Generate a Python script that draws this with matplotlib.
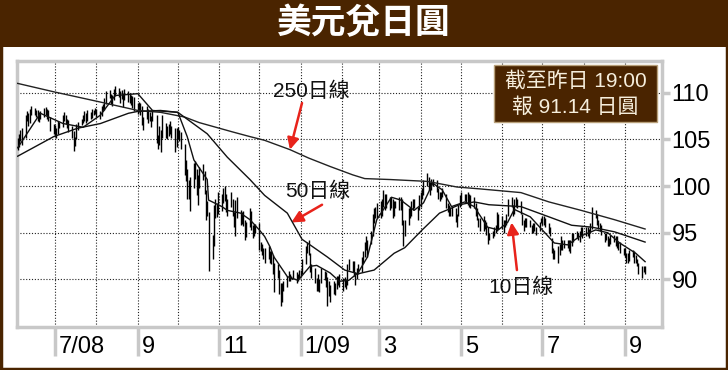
import numpy as np
import pandas as pd
import matplotlib
matplotlib.use('Agg')
import matplotlib.pyplot as plt
from matplotlib.patches import Rectangle
from matplotlib import transforms

plt.rcParams['font.family'] = ['Liberation Sans', 'Noto Sans CJK TC', 'DejaVu Sans']

title = '美元兌日圓'
info_lines = ['截至昨日 19:00', '報 91.14 日圓']

# 每日交易日 (2008-06-03 ~ 2009-09-16)
days = pd.bdate_range('2008-06-03', '2009-09-16')

# 日高
high = [
    105.2,105.6,106.0,106.2,107.6,108.0,107.8,108.3,108.6,108.4,108.2,108.1,107.9,108.0,108.4,108.5,108.3,108.1,107.4,106.6,  # 6/08
    106.5,106.2,107.0,106.9,107.6,107.9,107.6,107.2,107.1,106.4,105.9,105.3,106.6,106.9,107.2,107.6,108.0,107.8,108.1,107.9,108.3,108.2,108.4,  # 7
    108.3,108.0,108.6,108.8,109.4,110.2,110.3,109.9,109.8,110.4,110.7,110.5,110.2,110.3,110.0,110.4,110.2,110.0,109.8,109.6,109.5,  # 8
    108.9,109.0,108.9,108.6,107.4,108.6,108.3,107.9,107.5,108.1,107.6,105.5,106.4,106.0,107.6,106.8,106.4,106.6,107.0,106.4,106.2,106.2,  # 9
    106.3,106.0,105.8,104.5,102.8,101.8,100.6,101.0,102.5,102.7,101.8,101.2,102.0,102.4,101.6,99.6,98.4,97.2,94.8,98.0,98.6,98.2,99.4,  # 10
    99.2,99.8,100.0,99.2,98.6,99.4,98.6,97.2,98.5,98.8,97.4,97.2,97.3,96.4,96.2,97.6,97.3,95.8,95.9,95.9,  # 11
    96.0,94.0,93.8,93.4,93.4,93.6,93.0,93.0,92.6,91.8,91.6,91.0,89.6,89.6,89.8,90.4,90.9,90.6,90.4,91.0,90.8,90.6,91.0,  # 12
    91.0,92.2,93.6,94.0,94.2,92.8,91.6,91.2,90.2,90.6,90.0,91.2,90.9,90.8,90.3,89.8,89.4,89.8,89.6,90.4,90.4,90.6,  # 1/09
    90.2,90.3,90.0,91.6,92.2,92.0,92.0,90.8,91.2,91.6,92.4,93.0,94.0,94.6,94.2,95.2,97.0,97.6,97.8,98.2,  # 2
    98.4,98.6,99.6,99.2,99.2,98.8,98.8,98.6,98.4,98.4,98.8,98.8,98.6,96.4,96.4,97.6,97.8,98.4,98.6,98.6,97.8,99.0,  # 3
    99.4,99.8,100.6,101.4,101.0,100.4,100.8,100.8,100.6,99.8,99.4,99.4,99.8,99.2,98.2,98.0,97.8,97.8,97.6,97.0,98.0,99.0,  # 4
    99.4,99.2,99.2,99.4,99.2,99.0,98.8,98.2,97.6,96.6,96.6,96.8,96.4,96.2,95.6,95.0,95.2,95.6,95.8,97.2,97.0,  # 5
    96.8,96.4,96.4,97.0,98.6,98.8,98.0,98.6,98.8,98.6,98.4,97.0,96.4,96.6,96.6,96.4,95.8,96.0,96.0,95.6,96.2,96.6,  # 6
    96.8,96.8,96.6,96.0,95.6,94.4,93.4,93.2,93.6,93.8,94.6,94.2,94.2,94.2,94.2,94.2,95.0,95.0,95.2,95.0,95.2,95.6,95.6,  # 7
    95.6,95.6,95.4,96.0,97.8,97.4,97.0,96.4,96.0,95.8,95.0,95.0,94.6,94.4,94.8,94.8,94.6,94.6,94.0,94.0,93.4,  # 8
    93.4,92.8,92.8,93.2,93.2,93.0,92.6,92.2,91.8,91.4,91.4,91.4,  # 9
]
# 日低
low = [
    103.9,104.2,104.8,104.4,105.2,107.0,106.4,106.8,107.6,107.6,107.4,107.0,106.9,107.2,107.4,107.6,107.2,107.0,105.9,105.6,
    105.3,105.2,105.6,106.2,106.3,107.0,106.6,106.2,105.8,105.2,103.8,104.3,105.0,106.0,106.5,106.8,107.0,106.8,107.0,107.2,107.3,107.6,107.7,
    107.4,107.2,107.5,108.0,108.2,108.8,109.4,108.8,108.6,109.2,109.6,109.5,108.9,109.3,108.5,109.2,109.0,108.9,108.7,108.4,108.0,
    107.7,107.9,107.6,106.5,106.0,107.2,106.8,107.0,106.3,107.0,104.6,104.0,104.4,103.6,105.2,105.2,105.0,105.4,105.6,105.2,103.6,104.2,
    105.0,104.8,104.0,101.2,100.5,98.6,98.6,97.3,99.8,100.8,99.0,98.0,99.8,100.6,99.2,96.4,96.8,90.9,92.2,93.6,96.6,96.7,97.0,
    97.3,98.2,98.4,97.2,96.8,97.8,96.8,95.6,94.6,96.6,95.8,95.9,95.7,94.2,94.5,95.6,95.3,94.4,94.7,95.0,
    93.2,93.0,92.6,92.2,91.8,92.2,91.8,91.6,90.6,88.6,90.2,88.4,87.2,87.6,88.8,89.2,89.8,89.8,90.0,90.0,89.6,89.8,90.0,
    90.4,90.6,91.6,92.8,92.6,90.8,90.2,89.6,88.8,88.8,88.6,89.6,89.9,89.2,87.2,88.2,87.6,88.4,88.3,89.0,89.4,89.2,
    88.8,89.2,89.0,89.4,91.0,90.8,90.4,89.4,90.0,90.6,90.8,91.8,92.4,93.2,92.4,93.8,94.6,96.0,96.6,96.6,
    96.6,96.8,97.8,97.4,97.6,97.4,97.6,96.6,96.8,97.6,97.4,97.4,95.8,93.6,94.6,95.8,96.6,96.8,97.4,97.6,96.4,97.4,
    97.8,98.6,99.0,100.0,99.6,99.0,99.6,100.0,99.4,98.6,98.4,98.6,98.8,97.6,97.2,96.8,96.8,96.8,96.2,95.6,96.8,97.8,
    98.0,98.4,98.2,98.0,97.8,97.6,97.6,96.8,96.4,95.6,95.2,95.2,95.4,94.8,93.8,94.2,94.4,94.6,95.0,95.2,95.4,
    95.4,95.0,95.6,95.8,96.8,97.8,96.8,97.0,97.8,97.6,97.0,95.8,95.2,95.6,95.6,95.6,95.0,95.0,95.2,94.8,95.2,96.0,
    95.8,95.8,95.6,95.0,94.6,92.8,92.2,92.2,91.8,92.6,93.2,93.2,93.4,93.4,93.0,92.8,93.6,94.0,94.4,94.2,94.0,94.6,94.4,
    94.6,94.6,94.4,95.0,95.4,96.6,95.8,95.4,95.2,94.8,94.0,94.2,93.6,93.6,93.8,94.0,93.6,93.4,93.2,92.8,92.6,
    92.4,91.8,91.8,92.0,92.4,91.8,91.8,91.4,90.6,90.2,90.8,90.6,
]

# 移動平均線 (讀圖取點)
ma10_dates = ['2008-06-03','2008-06-20','2008-07-07','2008-07-22','2008-08-04','2008-08-15','2008-09-01','2008-09-12',
              '2008-10-01','2008-10-08','2008-10-13','2008-10-23','2008-10-24','2008-11-03','2008-11-07','2008-11-17',
              '2008-11-24','2008-12-01','2008-12-05','2008-12-09','2008-12-12','2008-12-22','2008-12-30','2009-01-08',
              '2009-01-13','2009-01-23','2009-01-30','2009-02-06','2009-02-13','2009-02-20','2009-02-27','2009-03-10',
              '2009-03-17','2009-03-27','2009-04-03','2009-04-10','2009-04-17','2009-04-24','2009-05-04','2009-05-11',
              '2009-05-21','2009-05-29','2009-06-05','2009-06-10','2009-06-22','2009-07-10','2009-07-20','2009-07-29',
              '2009-08-10','2009-08-19','2009-08-28','2009-09-09','2009-09-16']
ma10 = [104.1,107.8,106.7,106.3,107.6,109.7,109.9,108.1,107.9,105.3,102.8,100.7,98.5,97.8,97.4,97.1,96.4,95.3,94.6,93.5,
        92.4,90.3,89.9,91.4,91.5,90.7,89.8,89.9,90.7,92.4,96.4,98.8,98.5,97.4,98.2,100.3,99.6,97.8,98.3,97.8,
        95.6,95.3,96.1,97.5,96.7,93.9,93.7,94.6,95.3,95.0,93.9,92.8,91.9]

ma50_dates = ['2008-06-03','2008-06-30','2008-07-18','2008-08-04','2008-08-25','2008-09-01','2008-09-18','2008-10-01',
              '2008-10-23','2008-11-07','2008-11-24','2008-12-05','2008-12-22','2009-01-02','2009-01-21','2009-02-03',
              '2009-02-13','2009-02-25','2009-03-12','2009-03-20','2009-04-02','2009-04-15','2009-04-30','2009-05-11',
              '2009-05-22','2009-06-15','2009-07-06','2009-07-23','2009-08-07','2009-08-24','2009-09-16']
ma50 = [103.2,105.3,106.2,106.7,107.8,108.0,108.1,107.9,105.6,103.1,100.7,99.0,97.1,94.3,92.4,91.0,90.6,91.0,92.8,93.4,
        95.3,97.1,98.0,98.3,98.0,97.8,96.7,95.8,95.6,95.1,94.0]

ma250_dates = ['2008-06-03','2008-06-30','2008-08-04','2008-09-01','2008-09-18','2008-10-06','2008-10-17','2008-11-11',
               '2008-11-24','2008-12-05','2008-12-24','2009-01-07','2009-01-23','2009-02-09','2009-02-18','2009-03-09',
               '2009-04-06','2009-04-28','2009-05-15','2009-06-15','2009-07-06','2009-07-30','2009-08-24','2009-09-16']
ma250 = [111.0,110.1,109.0,108.1,107.9,107.4,106.8,105.8,105.3,104.9,103.9,103.0,102.1,101.2,100.8,100.7,
         100.5,99.9,99.7,99.3,98.3,97.4,96.4,95.4]

yticks = [90, 95, 100, 105, 110]
xlabel_months = ['2008-07-01','2008-09-01','2008-11-01','2009-01-01','2009-03-01','2009-05-01','2009-07-01','2009-09-01']
xlabels = ['7/08', '9', '11', '1/09', '3', '5', '7', '9']

brown = '#4a2400'
red = '#e8231b'
frame_gray = '#c8c8c8'

fig = plt.figure(figsize=(7.28, 3.70), dpi=100)
fig.patch.set_facecolor('white')

# 標題列
fig.patches.append(Rectangle((0, 1 - 47/370), 1, 47/370, transform=fig.transFigure,
                             facecolor=brown, edgecolor='none', zorder=0))
fig.patches.append(Rectangle((0.002, 0.004), 0.996, 0.992, transform=fig.transFigure,
                             fill=False, edgecolor=brown, lw=2.5, zorder=0))
fig.text(0.5, 1 - 23/370, title, color='white', fontsize=25, fontweight='bold',
         family=['Noto Sans CJK TC'], ha='center', va='center')

ax = fig.add_axes([17/728, 43/370, 645/728, 266/370])

# K線 (高低)
ax.vlines(days, low, high, color='black', lw=1.0, zorder=3)
ax.plot(pd.to_datetime(ma250_dates), ma250, color='#222222', lw=1.0, zorder=4)
ax.plot(pd.to_datetime(ma50_dates), ma50, color='#111111', lw=1.0, zorder=4)
ax.plot(pd.to_datetime(ma10_dates), ma10, color='#111111', lw=1.0, zorder=4)

ax.set_xlim(pd.Timestamp('2008-06-02 12:00'), pd.Timestamp('2009-09-28 16:00'))
ax.set_ylim(84.9, 113.4)

ax.yaxis.tick_right()
ax.set_yticks(yticks)
ax.set_yticklabels([str(v) for v in yticks], fontsize=17)
ax.tick_params(axis='y', which='major', length=6, width=2.5, color=frame_gray, pad=1)

ax.set_xticks(pd.to_datetime(xlabel_months))
ax.set_xticks(pd.date_range('2008-07-01', '2009-09-01', freq='MS'), minor=True)
ax.set_xticklabels([])
ax.tick_params(axis='x', which='major', length=21, width=2.5, color=frame_gray, direction='out')
ax.tick_params(axis='x', which='minor', length=0)
ax.grid(True, which='both', color='#222222', linestyle=(0, (1, 1.6)), lw=0.8)
ax.set_axisbelow(True)

for sp in ax.spines.values():
    sp.set_color(frame_gray)
    sp.set_linewidth(2.5)

trans = transforms.blended_transform_factory(ax.transData, ax.transAxes)
trans = transforms.offset_copy(trans, fig=fig, x=4, y=0, units='dots')
for m, lab in zip(pd.to_datetime(xlabel_months), xlabels):
    ax.text(m, -0.075, lab, transform=trans, fontsize=17, ha='left', va='center', clip_on=False)

# 標註
ann_font = dict(fontsize=15, color='#111111', ha='center', va='center')
ax.text(pd.Timestamp('2009-01-09'), 110.15, '250日線', **ann_font)
ax.annotate('', xy=(pd.Timestamp('2008-12-24'), 103.9), xytext=(pd.Timestamp('2009-01-02'), 108.9),
            arrowprops=dict(arrowstyle='-|>', color=red, lw=1.8, mutation_scale=17, shrinkA=0, shrinkB=0))
ax.text(pd.Timestamp('2009-01-14'), 99.4, '50日線', **ann_font)
ax.annotate('', xy=(pd.Timestamp('2008-12-25'), 96.1), xytext=(pd.Timestamp('2009-01-17'), 98.0),
            arrowprops=dict(arrowstyle='-|>', color=red, lw=1.8, mutation_scale=17, shrinkA=0, shrinkB=0))
ax.text(pd.Timestamp('2009-06-15'), 89.2, '10日線', **ann_font)
ax.annotate('', xy=(pd.Timestamp('2009-06-08'), 96.1), xytext=(pd.Timestamp('2009-06-12'), 91.0),
            arrowprops=dict(arrowstyle='-|>', color=red, lw=1.8, mutation_scale=17, shrinkA=0, shrinkB=0))

# 資訊框
fig.patches.append(Rectangle((494/728, 1 - 122/370), 163/728, 57/370, transform=fig.transFigure,
                             facecolor=brown, edgecolor='#b8a07a', lw=1, zorder=5))
fig.text(575.5/728, 1 - 81/370, info_lines[0], color='#f6eedc', fontsize=15, ha='center', va='center', zorder=6)
fig.text(575.5/728, 1 - 107/370, info_lines[1], color='#f6eedc', fontsize=15, ha='center', va='center', zorder=6)

fig.savefig('out.png', dpi=100)
